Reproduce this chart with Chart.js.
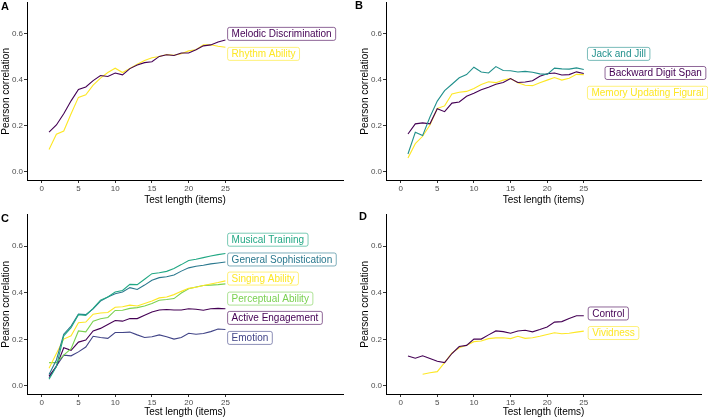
<!DOCTYPE html>
<html>
<head>
<meta charset="utf-8">
<script src="https://cdn.jsdelivr.net/npm/chart.js@4/dist/chart.umd.min.js"></script>
<style>
    html, body { margin: 0; padding: 0; background: #fff; }
    body { width: 708px; height: 418px; position: relative; overflow: hidden; font-family: "Liberation Sans", Arial, sans-serif; }
    .panel { position: absolute; }
    .tag { position: absolute; font-weight: bold; font-size: 11px; line-height: 11px; color: #000; }
</style>
</head>
<body>
<div class="panel" style="left:0px; top:-3px;"><canvas id="chartA" width="354" height="212"></canvas></div>
<div class="panel" style="left:359px; top:-3px;"><canvas id="chartB" width="349" height="212"></canvas></div>
<div class="panel" style="left:0px; top:209px;"><canvas id="chartC" width="354" height="209"></canvas></div>
<div class="panel" style="left:359px; top:209px;"><canvas id="chartD" width="349" height="209"></canvas></div>
<div class="tag" style="left:1px; top:1px;">A</div>
<div class="tag" style="left:355px; top:0px;">B</div>
<div class="tag" style="left:1px; top:213px;">C</div>
<div class="tag" style="left:359px; top:211px;">D</div>

<script>
// ===== DATA =====
const testLength = [1, 2, 3, 4, 5, 6, 7, 8, 9, 10, 11, 12, 13, 14, 15, 16, 17, 18, 19, 20, 21, 22, 23, 24, 25];
const xTicks = [0, 5, 10, 15, 20, 25];
const yTicks = [0.0, 0.2, 0.4, 0.6];

// panel A
const melodicDiscrimination = [0.173, 0.204, 0.253, 0.309, 0.358, 0.369, 0.397, 0.419, 0.415, 0.430, 0.422, 0.449, 0.465, 0.475, 0.479, 0.502, 0.509, 0.506, 0.517, 0.517, 0.531, 0.548, 0.552, 0.565, 0.573];
const rhythmAbility = [0.098, 0.164, 0.178, 0.253, 0.324, 0.335, 0.377, 0.408, 0.432, 0.451, 0.432, 0.450, 0.468, 0.484, 0.496, 0.502, 0.510, 0.507, 0.514, 0.526, 0.531, 0.552, 0.553, 0.546, 0.542];

// panel B
const jackAndJill = [0.078, 0.172, 0.158, 0.239, 0.308, 0.353, 0.381, 0.409, 0.423, 0.455, 0.434, 0.430, 0.458, 0.441, 0.440, 0.434, 0.437, 0.433, 0.426, 0.424, 0.451, 0.448, 0.447, 0.452, 0.445];
const backwardDigitSpan = [0.165, 0.209, 0.213, 0.209, 0.275, 0.262, 0.299, 0.304, 0.329, 0.342, 0.357, 0.368, 0.381, 0.389, 0.406, 0.389, 0.391, 0.396, 0.416, 0.427, 0.430, 0.421, 0.423, 0.435, 0.428];
const memoryUpdatingFigural = [0.061, 0.123, 0.155, 0.204, 0.276, 0.287, 0.339, 0.346, 0.350, 0.363, 0.380, 0.392, 0.388, 0.399, 0.406, 0.388, 0.377, 0.375, 0.388, 0.399, 0.410, 0.399, 0.407, 0.424, 0.423];

// panel C
const musicalTraining = [0.028, 0.083, 0.215, 0.250, 0.306, 0.303, 0.333, 0.368, 0.382, 0.403, 0.410, 0.436, 0.435, 0.458, 0.482, 0.486, 0.492, 0.504, 0.521, 0.539, 0.544, 0.551, 0.558, 0.564, 0.569];
const generalSophistication = [0.049, 0.111, 0.222, 0.257, 0.308, 0.306, 0.331, 0.364, 0.382, 0.396, 0.403, 0.422, 0.414, 0.433, 0.454, 0.465, 0.469, 0.476, 0.493, 0.507, 0.514, 0.518, 0.524, 0.528, 0.532];
const singingAbility = [0.076, 0.139, 0.201, 0.215, 0.271, 0.274, 0.308, 0.313, 0.315, 0.338, 0.340, 0.347, 0.343, 0.354, 0.365, 0.378, 0.382, 0.392, 0.406, 0.419, 0.424, 0.431, 0.438, 0.444, 0.451];
const perceptualAbility = [0.100, 0.100, 0.132, 0.160, 0.236, 0.232, 0.278, 0.288, 0.294, 0.324, 0.325, 0.333, 0.336, 0.343, 0.354, 0.368, 0.371, 0.375, 0.399, 0.417, 0.425, 0.431, 0.433, 0.435, 0.438];
const activeEngagement = [0.042, 0.083, 0.164, 0.153, 0.188, 0.197, 0.236, 0.247, 0.264, 0.281, 0.278, 0.289, 0.289, 0.303, 0.317, 0.326, 0.328, 0.326, 0.326, 0.331, 0.329, 0.325, 0.331, 0.333, 0.331];
const emotion = [0.035, 0.086, 0.132, 0.129, 0.146, 0.167, 0.213, 0.208, 0.204, 0.229, 0.229, 0.231, 0.219, 0.208, 0.211, 0.219, 0.211, 0.201, 0.208, 0.226, 0.222, 0.225, 0.233, 0.244, 0.242];

// panel D
const control = [0.128, 0.119, 0.129, 0.118, 0.106, 0.100, 0.139, 0.169, 0.174, 0.201, 0.201, 0.219, 0.236, 0.233, 0.226, 0.236, 0.239, 0.232, 0.242, 0.253, 0.274, 0.276, 0.289, 0.301, 0.301];
const vividness = [null, null, 0.050, 0.056, 0.061, 0.100, 0.142, 0.164, 0.174, 0.190, 0.193, 0.203, 0.206, 0.207, 0.203, 0.213, 0.204, 0.207, 0.213, 0.221, 0.228, 0.224, 0.226, 0.231, 0.235];

// ===== LABEL PLACEMENT (data units: left edge x, centre y) =====
const labelPosA = [[25.3, 0.600], [25.3, 0.513]];
const labelPosB = [[25.5, 0.513], [27.9, 0.430], [25.5, 0.344]];
const labelPosC = [[25.3, 0.628], [25.3, 0.543], [25.3, 0.461], [25.3, 0.375], [25.3, 0.292], [25.3, 0.206]];
const labelPosD = [[25.6, 0.311], [25.6, 0.227]];

// viridis
const V_PURPLE = '#440154';
const V_INDIGO = '#414487';
const V_BLUE = '#2A788E';
const V_GREEN = '#22A884';
const V_LIME = '#7AD151';
const V_TEAL = '#21908C';
const V_YELLOW = '#FDE725';

const FONT = '"Liberation Sans", Arial, sans-serif';

// ===== BOXED LABEL PLUGIN =====
const boxLabels = {
    id: 'boxLabels',
    afterDatasetsDraw(chart) {
        const { ctx, scales: { x, y } } = chart;
        chart.data.datasets.forEach(ds => {
            if (!ds.tagPos) return;
            const px = x.getPixelForValue(ds.tagPos[0]);
            const py = y.getPixelForValue(ds.tagPos[1]);
            ctx.save();
            ctx.font = '10px ' + FONT;
            const w = ctx.measureText(ds.label).width + 8;
            const h = 13;
            const r = 2;
            const left = px, top = py - h / 2;
            ctx.beginPath();
            ctx.moveTo(left + r, top);
            ctx.lineTo(left + w - r, top);
            ctx.arcTo(left + w, top, left + w, top + r, r);
            ctx.lineTo(left + w, top + h - r);
            ctx.arcTo(left + w, top + h, left + w - r, top + h, r);
            ctx.lineTo(left + r, top + h);
            ctx.arcTo(left, top + h, left, top + h - r, r);
            ctx.lineTo(left, top + r);
            ctx.arcTo(left, top, left + r, top, r);
            ctx.closePath();
            ctx.fillStyle = '#fff';
            ctx.fill();
            ctx.globalAlpha = 0.6;
            ctx.strokeStyle = ds.borderColor;
            ctx.lineWidth = 1;
            ctx.stroke();
            ctx.globalAlpha = 1;
            ctx.fillStyle = ds.borderColor;
            ctx.textBaseline = 'middle';
            ctx.textAlign = 'left';
            ctx.fillText(ds.label, left + 4, py + 0.5);
            ctx.restore();
        });
    }
};

// ===== HELPERS =====
function series(label, values, color, pos) {
    return {
        label: label,
        data: testLength.map((t, i) => ({ x: t, y: values[i] })),
        borderColor: color,
        borderWidth: 1.1,
        pointRadius: 0,
        tension: 0,
        spanGaps: false,
        tagPos: pos
    };
}

function createPanel(canvasId, datasets, titlePadBottom, axisHeight, padRight) {
    const ctx = document.getElementById(canvasId);
    return new Chart(ctx, {
        type: 'line',
        data: { datasets: datasets },
        plugins: [boxLabels],
        options: {
            responsive: false,
            animation: false,
            layout: { padding: { left: 0, right: padRight, top: 0, bottom: 0 } },
            plugins: { legend: { display: false }, tooltip: { enabled: false } },
            scales: {
                x: {
                    type: 'linear',
                    min: -2,
                    max: 41,
                    afterBuildTicks: s => { s.ticks = xTicks.map(v => ({ value: v })); },
                    afterFit: s => { s.height = axisHeight; },
                    ticks: { color: '#4D4D4D', font: { family: FONT, size: 8 }, padding: 1, maxRotation: 0, callback: v => String(v) },
                    grid: { display: true, drawOnChartArea: false, drawTicks: true, tickLength: 3, tickColor: '#333', tickWidth: 1 },
                    border: { display: true, color: '#000', width: 1 },
                    title: { display: true, text: 'Test length (items)', color: '#000', font: { family: FONT, size: 10 }, padding: { top: 0, bottom: titlePadBottom } }
                },
                y: {
                    min: -0.035,
                    max: 0.735,
                    afterBuildTicks: s => { s.ticks = yTicks.map(v => ({ value: v })); },
                    afterFit: s => { s.width = 27; },
                    ticks: { color: '#4D4D4D', font: { family: FONT, size: 8 }, padding: 1, callback: v => v.toFixed(1) },
                    grid: { display: true, drawOnChartArea: false, drawTicks: true, tickLength: 3, tickColor: '#333', tickWidth: 1 },
                    border: { display: true, color: '#000', width: 1 },
                    title: { display: true, text: 'Pearson correlation', color: '#000', font: { family: FONT, size: 10 }, padding: { top: 0, bottom: 0 } }
                }
            }
        }
    });
}

// ===== BUILD =====
createPanel('chartA', [
    series('Melodic Discrimination', melodicDiscrimination, V_PURPLE, labelPosA[0]),
    series('Rhythm Ability', rhythmAbility, V_YELLOW, labelPosA[1])
], 3, 29, 11);

createPanel('chartB', [
    series('Jack and Jill', jackAndJill, V_TEAL, labelPosB[0]),
    series('Backward Digit Span', backwardDigitSpan, V_PURPLE, labelPosB[1]),
    series('Memory Updating Figural', memoryUpdatingFigural, V_YELLOW, labelPosB[2])
], 3, 29, 7);

createPanel('chartC', [
    series('Musical Training', musicalTraining, V_GREEN, labelPosC[0]),
    series('General Sophistication', generalSophistication, V_BLUE, labelPosC[1]),
    series('Singing Ability', singingAbility, V_YELLOW, labelPosC[2]),
    series('Perceptual Ability', perceptualAbility, V_LIME, labelPosC[3]),
    series('Active Engagement', activeEngagement, V_PURPLE, labelPosC[4]),
    series('Emotion', emotion, V_INDIGO, labelPosC[5])
], 0, 24, 11);

createPanel('chartD', [
    series('Control', control, V_PURPLE, labelPosD[0]),
    series('Vividness', vividness, V_YELLOW, labelPosD[1])
], 0, 24, 7);
</script>
</body>
</html>
